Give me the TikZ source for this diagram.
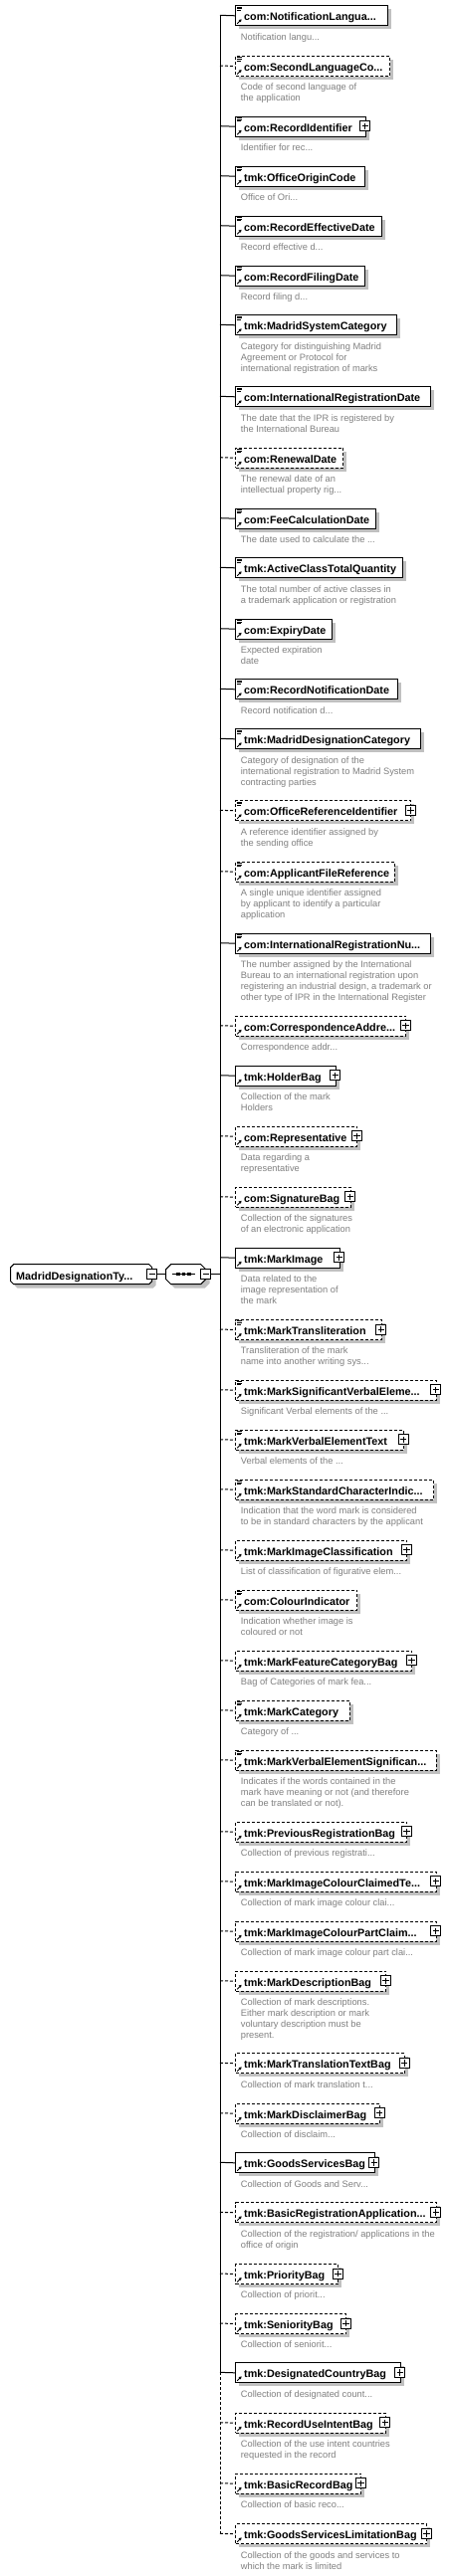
\documentclass[tikz,border=0pt]{standalone}
\usepackage{fontspec}
\setmainfont{Liberation Sans}
\usetikzlibrary{arrows.meta}
\definecolor{shadowc}{RGB}{192,192,192}
\definecolor{descc}{RGB}{128,128,128}
\tikzset{
  reqbox/.style={draw=black, line width=1pt, fill=white, inner sep=0pt},
  optbox/.style={draw=black, line width=1pt, fill=white, inner sep=0pt, dash pattern=on 3pt off 2pt},
  reqline/.style={line width=1pt},
  optline/.style={line width=1pt, dash pattern=on 3pt off 2pt},
  nametext/.style={anchor=base west, inner sep=0pt, font=\fontsize{10.8pt}{13pt}\selectfont\bfseries},
  desctext/.style={anchor=north west, inner sep=0pt, align=left, text=descc, font=\fontsize{9.3pt}{11pt}\selectfont},
  plusbox/.style={draw=black, line width=0.9pt, fill=white, minimum size=10pt, inner sep=0pt},
  signline/.style={line width=0.9pt},
  iconline/.style={line width=0.8pt},
  refarrow/.style={line width=0.9pt, -{Triangle[length=2.6pt,width=3pt]}},
}
% #1 id, #2 top, #3 right, #4 name, #5 req/opt, #6 doc, #7 plus, #8 description
\newcommand\xsdelem[8]{%
  \fill[shadowc] (240.3,#2+4) rectangle (#3+4,#2+24);
  \node[#5box, anchor=north west, minimum width={(#3-236.3)*1pt}, minimum height=20pt] (#1) at (236.3,#2) {};
  \node[nametext] (#1n) at (245,#2+15.3) {#4};
  \coordinate (#1b) at (221,#2+10);
  \draw[#5line] (#1b) -- (#1.west);
  \ifnum#6=1
    \draw[iconline] (237.8,#2+1.6) -- (243,#2+1.6) (237.8,#2+3.3) -- (243,#2+3.3) (237.8,#2+5) -- (242,#2+5);
  \fi
  \draw[refarrow] (238.2,#2+18.5) -- (242.6,#2+14.1);
  \ifnum#7=1
    \node[plusbox] (#1p) at (#3,#2+10) {};
    \draw[signline] ([xshift=-3.2pt]#1p.center) -- ([xshift=3.2pt]#1p.center)
                    ([yshift=-3.2pt]#1p.center) -- ([yshift=3.2pt]#1p.center);
  \fi
  \node[desctext] (#1d) at (241.7,#2+27.2) {\rule{0pt}{7.5pt}#8};
}
\begin{document}
\begin{tikzpicture}[x=1pt,y=-1pt]
\useasboundingbox (0,0) rectangle (452,2589);
\fill[white] (0,0) rectangle (452,2589);

\xsdelem{e1}{5.3}{389.3}{com:NotificationLangua...}{req}{1}{0}{Notification langu...}
\xsdelem{e2}{56}{391}{com:SecondLanguageCo...}{opt}{1}{0}{Code of second language of\\the application}
\xsdelem{e3}{116.7}{366.7}{com:RecordIdentifier}{req}{1}{1}{Identifier for rec...}
\xsdelem{e4}{166.7}{365.7}{tmk:OfficeOriginCode}{req}{1}{0}{Office of Ori...}
\xsdelem{e5}{216.7}{382.7}{com:RecordEffectiveDate}{req}{1}{0}{Record effective d...}
\xsdelem{e6}{266.7}{365.7}{com:RecordFilingDate}{req}{1}{0}{Record filing d...}
\xsdelem{e7}{316.3}{397.7}{tmk:MadridSystemCategory}{req}{1}{0}{Category for distinguishing Madrid\\Agreement or Protocol for\\international registration of marks}
\xsdelem{e8}{388.3}{431.7}{com:InternationalRegistrationDate}{req}{1}{0}{The date that the IPR is registered by\\the International Bureau}
\xsdelem{e9}{449.7}{344.3}{com:RenewalDate}{opt}{1}{0}{The renewal date of an\\intellectual property rig...}
\xsdelem{e10}{510.7}{376.7}{com:FeeCalculationDate}{req}{1}{0}{The date used to calculate the ...}
\xsdelem{e11}{560.3}{404.3}{tmk:ActiveClassTotalQuantity}{req}{1}{0}{The total number of active classes in\\a trademark application or registration}
\xsdelem{e12}{621.7}{333.3}{com:ExpiryDate}{req}{1}{0}{Expected expiration\\date}
\xsdelem{e13}{682.3}{399.3}{com:RecordNotificationDate}{req}{1}{0}{Record notification d...}
\xsdelem{e14}{732.3}{422.3}{tmk:MadridDesignationCategory}{req}{1}{0}{Category of designation of the\\international registration to Madrid System\\contracting parties}
\xsdelem{e15}{804.3}{412.3}{com:OfficeReferenceIdentifier}{opt}{1}{1}{A reference identifier assigned by\\the sending office}
\xsdelem{e16}{865.7}{395.7}{com:ApplicantFileReference}{opt}{1}{0}{A single unique identifier assigned\\by applicant to identify a particular\\application}
\xsdelem{e17}{937.7}{432.3}{com:InternationalRegistrationNu...}{req}{1}{0}{The number assigned by the International\\Bureau to an international registration upon\\registering an industrial design, a trademark or\\other type of IPR in the International Register}
\xsdelem{e18}{1020.7}{407.3}{com:CorrespondenceAddre...}{opt}{0}{1}{Correspondence addr...}
\xsdelem{e19}{1070.7}{336.7}{tmk:HolderBag}{req}{0}{1}{Collection of the mark\\Holders}
\xsdelem{e20}{1131.7}{358.3}{com:Representative}{opt}{0}{1}{Data regarding a\\representative}
\xsdelem{e21}{1192.7}{351.7}{com:SignatureBag}{opt}{0}{1}{Collection of the signatures\\of an electronic application}
\xsdelem{e22}{1253.7}{340.7}{tmk:MarkImage}{req}{0}{1}{Data related to the\\image representation of\\the mark}
\xsdelem{e23}{1326}{382.7}{tmk:MarkTransliteration}{opt}{1}{1}{Transliteration of the mark\\name into another writing sys...}
\xsdelem{e24}{1386.7}{437.7}{tmk:MarkSignificantVerbalEleme...}{opt}{1}{1}{Significant Verbal elements of the ...}
\xsdelem{e25}{1436.7}{405}{tmk:MarkVerbalElementText}{opt}{1}{1}{Verbal elements of the ...}
\xsdelem{e26}{1486.7}{435}{tmk:MarkStandardCharacterIndic...}{opt}{1}{0}{Indication that the word mark is considered\\to be in standard characters by the applicant}
\xsdelem{e27}{1547.7}{408.3}{tmk:MarkImageClassification}{opt}{0}{1}{List of classification of figurative elem...}
\xsdelem{e28}{1597.7}{358.3}{com:ColourIndicator}{opt}{1}{0}{Indication whether image is\\coloured or not}
\xsdelem{e29}{1658.7}{413.3}{tmk:MarkFeatureCategoryBag}{opt}{0}{1}{Bag of Categories of mark fea...}
\xsdelem{e30}{1708.7}{350.7}{tmk:MarkCategory}{opt}{1}{0}{Category of ...}
\xsdelem{e31}{1758.7}{437.7}{tmk:MarkVerbalElementSignifican...}{opt}{1}{0}{Indicates if the words contained in the\\mark have meaning or not (and therefore\\can be translated or not).}
\xsdelem{e32}{1830.7}{408.3}{tmk:PreviousRegistrationBag}{opt}{0}{1}{Collection of previous registrati...}
\xsdelem{e33}{1880.7}{437.7}{tmk:MarkImageColourClaimedTe...}{opt}{0}{1}{Collection of mark image colour clai...}
\xsdelem{e34}{1930.7}{437.7}{tmk:MarkImageColourPartClaim...}{opt}{0}{1}{Collection of mark image colour part clai...}
\xsdelem{e35}{1980.7}{387.3}{tmk:MarkDescriptionBag}{opt}{0}{1}{Collection of mark descriptions.\\Either mark description or mark\\voluntary description must be\\present.}
\xsdelem{e36}{2063.3}{406}{tmk:MarkTranslationTextBag}{opt}{0}{1}{Collection of mark translation t...}
\xsdelem{e37}{2113.7}{381}{tmk:MarkDisclaimerBag}{opt}{0}{1}{Collection of disclaim...}
\xsdelem{e38}{2163.3}{375.7}{tmk:GoodsServicesBag}{req}{0}{1}{Collection of Goods and Serv...}
\xsdelem{e39}{2213.3}{437.7}{tmk:BasicRegistrationApplication...}{opt}{0}{1}{Collection of the registration/ applications in the\\office of origin}
\xsdelem{e40}{2275}{339.3}{tmk:PriorityBag}{opt}{0}{1}{Collection of priorit...}
\xsdelem{e41}{2325}{347.3}{tmk:SeniorityBag}{opt}{0}{1}{Collection of seniorit...}
\xsdelem{e42}{2374.3}{401.7}{tmk:DesignatedCountryBag}{req}{0}{1}{Collection of designated count...}
\xsdelem{e43}{2424.7}{386.7}{tmk:RecordUseIntentBag}{opt}{0}{1}{Collection of the use intent countries\\requested in the record}
\xsdelem{e44}{2485.7}{362.3}{tmk:BasicRecordBag}{opt}{0}{1}{Collection of basic reco...}
\xsdelem{e45}{2536.3}{428.3}{tmk:GoodsServicesLimitationBag}{opt}{0}{1}{Collection of the goods and services to\\which the mark is limited}

% trunk
\draw[reqline] (e1b) -- (e42b);
\draw[optline] (e42b) -- (e45b);

% root element
\begin{scope}[shift={(4,4)}]
  \fill[shadowc] (13.7,1270.7) -- (149.7,1270.7) -- (152.7,1273.7) -- (152.7,1287.7) -- (149.7,1290.7) -- (13.7,1290.7) -- (10.7,1287.7) -- (10.7,1273.7) -- cycle;
  \fill[shadowc] (171.7,1270.7) -- (201.7,1270.7) -- (206.7,1275.7) -- (206.7,1285.7) -- (201.7,1290.7) -- (171.7,1290.7) -- (166.7,1285.7) -- (166.7,1275.7) -- cycle;
\end{scope}
\draw[line width=1pt, fill=white] (13.7,1270.7) -- (149.7,1270.7) -- (152.7,1273.7) -- (152.7,1287.7) -- (149.7,1290.7) -- (13.7,1290.7) -- (10.7,1287.7) -- (10.7,1273.7) -- cycle;
\node[nametext] (root) at (16,1286) {MadridDesignationTy...};
\node[plusbox] (rootm) at (152.7,1280.7) {};
\draw[signline] ([xshift=-3.2pt]rootm.center) -- ([xshift=3.2pt]rootm.center);

% sequence compositor
\draw[line width=1pt, fill=white] (171.7,1270.7) -- (201.7,1270.7) -- (206.7,1275.7) -- (206.7,1285.7) -- (201.7,1290.7) -- (171.7,1290.7) -- (166.7,1285.7) -- (166.7,1275.7) -- cycle;
\node[minimum width=40pt, minimum height=20pt, inner sep=0pt] (seq) at (186.7,1280.7) {};
\draw[line width=1pt] (173,1280.7) -- (196,1280.7);
\foreach \dx in {179,184.5,190} \fill (\dx-1.6,1279.1) rectangle (\dx+1.6,1282.3);
\node[plusbox] (seqm) at (206.7,1280.7) {};
\draw[signline] ([xshift=-3.2pt]seqm.center) -- ([xshift=3.2pt]seqm.center);

\coordinate (tMid) at (221,1280.7);
\draw[reqline] (rootm.east) -- (seq.west);
\draw[reqline] (seqm.east) -- (tMid);
\end{tikzpicture}
\end{document}
